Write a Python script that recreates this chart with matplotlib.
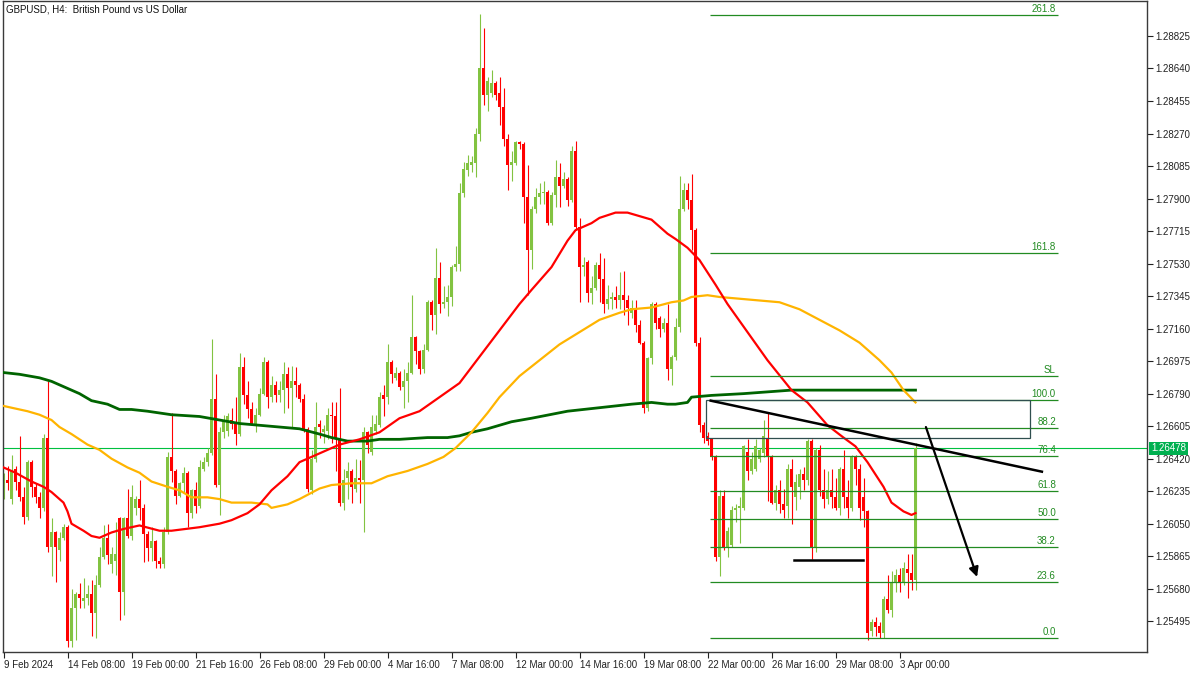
import numpy as np
import matplotlib
matplotlib.use('Agg')
import matplotlib.pyplot as plt
from matplotlib.patches import Rectangle
from matplotlib.transforms import blended_transform_factory

plt.rcParams['font.family'] = ['Liberation Sans', 'DejaVu Sans']

# GBPUSD H4 candles, 9 Feb 2024 16:00 ... 3 Apr 2024 16:00 (index 0..228)
opens = [
    1.2620, 1.2630, 1.2619, 1.2636, 1.2629, 1.2620, 1.2609, 1.2640, 1.2626, 1.2620,
    1.2614, 1.2654, 1.2592, 1.2600, 1.2590, 1.2597, 1.2603, 1.2538, 1.2557, 1.2565,
    1.2561, 1.2563, 1.2565, 1.2554, 1.2570, 1.2586, 1.2597, 1.2582, 1.2584, 1.2608,
    1.2566, 1.2608, 1.2598, 1.2614, 1.2619, 1.2614, 1.2599, 1.2591, 1.2595, 1.2584,
    1.2582, 1.2600, 1.2643, 1.2635, 1.2621, 1.2628, 1.2634, 1.2611, 1.2624, 1.2615,
    1.2636, 1.2640, 1.2645, 1.2676, 1.2627, 1.2657, 1.2658, 1.2664, 1.2662, 1.2656,
    1.2694, 1.2678, 1.2670, 1.2662, 1.2667, 1.2679, 1.2697, 1.2677, 1.2684, 1.2678,
    1.2681, 1.2690, 1.2682, 1.2686, 1.2684, 1.2676, 1.2659, 1.2624, 1.2642, 1.2662,
    1.2657, 1.2658, 1.2667, 1.2666, 1.2653, 1.2617, 1.2631, 1.2635, 1.2625, 1.2631,
    1.2630, 1.2657, 1.2646, 1.2658, 1.2661, 1.2678, 1.2677, 1.2697, 1.2688, 1.2691,
    1.2683, 1.2686, 1.2691, 1.2711, 1.2703, 1.2693, 1.2704, 1.2731, 1.2724, 1.2745,
    1.2730, 1.2731, 1.2734, 1.2751, 1.2753, 1.2793, 1.2806, 1.2809, 1.2810, 1.2827,
    1.2864, 1.2849, 1.2850, 1.2856, 1.2850, 1.2842, 1.2824, 1.2809, 1.2810, 1.2822,
    1.2821, 1.2791, 1.2761, 1.2784, 1.2791, 1.2793, 1.2794, 1.2776, 1.2792, 1.2802,
    1.2797, 1.2801, 1.2789, 1.2817, 1.2774, 1.2751, 1.2754, 1.2736, 1.2739, 1.2752,
    1.2744, 1.2730, 1.2733, 1.2734, 1.2732, 1.2735, 1.2732, 1.2725, 1.2727, 1.2718,
    1.2708, 1.2671, 1.2699, 1.2730, 1.2722, 1.2716, 1.2719, 1.2693, 1.2700, 1.2717,
    1.2784, 1.2795, 1.2789, 1.2772, 1.2708, 1.2661, 1.2655, 1.2653, 1.2643, 1.2586,
    1.2621, 1.2592, 1.2593, 1.2613, 1.2614, 1.2614, 1.2646, 1.2635, 1.2636, 1.2642,
    1.2645, 1.2654, 1.2643, 1.2617, 1.2624, 1.2616, 1.2615, 1.2636, 1.2620, 1.2626,
    1.2633, 1.2630, 1.2652, 1.2592, 1.2647, 1.2624, 1.2619, 1.2624, 1.2620, 1.2614,
    1.2636, 1.2620, 1.2614, 1.2643, 1.2636, 1.2620, 1.2612, 1.2544, 1.2549, 1.2547,
    1.2543, 1.2562, 1.2556, 1.2572, 1.2576, 1.2572, 1.2579, 1.2577, 1.2573,
]
highs = [
    1.2634, 1.2638, 1.2644, 1.2638, 1.2655, 1.2626, 1.2641, 1.2641, 1.2628, 1.2623,
    1.2656, 1.2686, 1.2608, 1.2601, 1.2600, 1.2605, 1.2604, 1.2568, 1.2566, 1.2571,
    1.2574, 1.2570, 1.2573, 1.2576, 1.2592, 1.2604, 1.2605, 1.2592, 1.2606, 1.2609,
    1.2609, 1.2625, 1.2627, 1.2621, 1.2630, 1.2616, 1.2601, 1.2603, 1.2596, 1.2586,
    1.2603, 1.2646, 1.2668, 1.2636, 1.2629, 1.2637, 1.2635, 1.2625, 1.2629, 1.2641,
    1.2643, 1.2648, 1.2710, 1.2690, 1.2660, 1.2667, 1.2668, 1.2671, 1.2677, 1.2702,
    1.2700, 1.2686, 1.2674, 1.2671, 1.2682, 1.2700, 1.2698, 1.2689, 1.2686, 1.2686,
    1.2697, 1.2694, 1.2695, 1.2694, 1.2685, 1.2679, 1.2660, 1.2647, 1.2674, 1.2664,
    1.2661, 1.2671, 1.2674, 1.2674, 1.2682, 1.2636, 1.2640, 1.2636, 1.2642, 1.2641,
    1.2660, 1.2658, 1.2667, 1.2667, 1.2680, 1.2684, 1.2707, 1.2698, 1.2694, 1.2692,
    1.2693, 1.2697, 1.2735, 1.2712, 1.2704, 1.2707, 1.2732, 1.2732, 1.2762, 1.2754,
    1.2740, 1.2741, 1.2752, 1.2763, 1.2799, 1.2811, 1.2815, 1.2814, 1.2830, 1.2895,
    1.2887, 1.2859, 1.2863, 1.2857, 1.2859, 1.2853, 1.2827, 1.2817, 1.2823, 1.2823,
    1.2822, 1.2809, 1.2786, 1.2796, 1.2799, 1.2800, 1.2795, 1.2794, 1.2812, 1.2810,
    1.2805, 1.2802, 1.2820, 1.2823, 1.2779, 1.2757, 1.2755, 1.2746, 1.2754, 1.2759,
    1.2756, 1.2741, 1.2737, 1.2740, 1.2748, 1.2749, 1.2735, 1.2732, 1.2732, 1.2721,
    1.2709, 1.2700, 1.2731, 1.2731, 1.2723, 1.2722, 1.2730, 1.2701, 1.2722, 1.2803,
    1.2799, 1.2799, 1.2804, 1.2773, 1.2711, 1.2663, 1.2657, 1.2654, 1.2644, 1.2624,
    1.2624, 1.2603, 1.2615, 1.2616, 1.2620, 1.2650, 1.2653, 1.2646, 1.2653, 1.2648,
    1.2664, 1.2668, 1.2644, 1.2627, 1.2630, 1.2625, 1.2639, 1.2642, 1.2633, 1.2636,
    1.2637, 1.2653, 1.2653, 1.2648, 1.2650, 1.2636, 1.2635, 1.2636, 1.2631, 1.2637,
    1.2647, 1.2630, 1.2644, 1.2644, 1.2639, 1.2631, 1.2613, 1.2551, 1.2552, 1.2549,
    1.2564, 1.2576, 1.2578, 1.2579, 1.2580, 1.2583, 1.2588, 1.2588, 1.2651,
]
lows = [
    1.2619, 1.2624, 1.2616, 1.2624, 1.2618, 1.2605, 1.2607, 1.2620, 1.2617, 1.2608,
    1.2612, 1.2589, 1.2575, 1.2572, 1.2584, 1.2596, 1.2535, 1.2535, 1.2539, 1.2557,
    1.2557, 1.2559, 1.2541, 1.2540, 1.2569, 1.2585, 1.2582, 1.2577, 1.2576, 1.2550,
    1.2553, 1.2597, 1.2596, 1.2610, 1.2607, 1.2583, 1.2584, 1.2584, 1.2580, 1.2580,
    1.2580, 1.2599, 1.2629, 1.2616, 1.2620, 1.2623, 1.2603, 1.2608, 1.2611, 1.2614,
    1.2635, 1.2638, 1.2644, 1.2626, 1.2610, 1.2654, 1.2655, 1.2659, 1.2650, 1.2655,
    1.2673, 1.2665, 1.2661, 1.2657, 1.2666, 1.2678, 1.2671, 1.2674, 1.2674, 1.2674,
    1.2668, 1.2671, 1.2660, 1.2677, 1.2674, 1.2657, 1.2623, 1.2622, 1.2640, 1.2654,
    1.2651, 1.2653, 1.2651, 1.2635, 1.2615, 1.2613, 1.2619, 1.2617, 1.2623, 1.2617,
    1.2600, 1.2645, 1.2644, 1.2656, 1.2660, 1.2666, 1.2673, 1.2685, 1.2687, 1.2681,
    1.2671, 1.2674, 1.2690, 1.2696, 1.2690, 1.2691, 1.2703, 1.2715, 1.2713, 1.2725,
    1.2728, 1.2723, 1.2729, 1.2749, 1.2749, 1.2791, 1.2803, 1.2805, 1.2802, 1.2823,
    1.2843, 1.2840, 1.2848, 1.2846, 1.2832, 1.2820, 1.2795, 1.2800, 1.2809, 1.2818,
    1.2776, 1.2735, 1.2750, 1.2782, 1.2787, 1.2787, 1.2775, 1.2775, 1.2785, 1.2785,
    1.2796, 1.2786, 1.2788, 1.2772, 1.2731, 1.2746, 1.2731, 1.2730, 1.2738, 1.2731,
    1.2725, 1.2727, 1.2727, 1.2728, 1.2727, 1.2724, 1.2718, 1.2722, 1.2714, 1.2707,
    1.2668, 1.2669, 1.2696, 1.2716, 1.2711, 1.2714, 1.2687, 1.2684, 1.2698, 1.2714,
    1.2783, 1.2784, 1.2761, 1.2706, 1.2657, 1.2651, 1.2650, 1.2641, 1.2584, 1.2575,
    1.2590, 1.2586, 1.2592, 1.2606, 1.2594, 1.2613, 1.2630, 1.2633, 1.2635, 1.2640,
    1.2643, 1.2618, 1.2616, 1.2613, 1.2611, 1.2608, 1.2608, 1.2605, 1.2613, 1.2619,
    1.2624, 1.2627, 1.2585, 1.2589, 1.2621, 1.2614, 1.2616, 1.2614, 1.2613, 1.2610,
    1.2614, 1.2608, 1.2612, 1.2627, 1.2607, 1.2603, 1.2539, 1.2541, 1.2541, 1.2540,
    1.2540, 1.2554, 1.2552, 1.2566, 1.2566, 1.2570, 1.2563, 1.2567, 1.2567,
]
closes = [
    1.2630, 1.2628, 1.2635, 1.2629, 1.2620, 1.2609, 1.2640, 1.2626, 1.2620, 1.2614,
    1.2654, 1.2592, 1.2600, 1.2592, 1.2597, 1.2603, 1.2538, 1.2557, 1.2565, 1.2563,
    1.2563, 1.2565, 1.2554, 1.2570, 1.2586, 1.2597, 1.2587, 1.2588, 1.2588, 1.2566,
    1.2608, 1.2598, 1.2620, 1.2619, 1.2614, 1.2599, 1.2591, 1.2595, 1.2584, 1.2582,
    1.2600, 1.2643, 1.2635, 1.2621, 1.2628, 1.2634, 1.2611, 1.2624, 1.2615, 1.2637,
    1.2640, 1.2645, 1.2676, 1.2627, 1.2657, 1.2664, 1.2666, 1.2662, 1.2656, 1.2694,
    1.2678, 1.2670, 1.2662, 1.2667, 1.2679, 1.2697, 1.2677, 1.2684, 1.2678, 1.2681,
    1.2690, 1.2682, 1.2686, 1.2684, 1.2676, 1.2659, 1.2625, 1.2642, 1.2660, 1.2660,
    1.2659, 1.2667, 1.2666, 1.2653, 1.2617, 1.2630, 1.2635, 1.2626, 1.2631, 1.2630,
    1.2657, 1.2650, 1.2660, 1.2662, 1.2677, 1.2676, 1.2697, 1.2690, 1.2691, 1.2683,
    1.2686, 1.2691, 1.2711, 1.2703, 1.2693, 1.2704, 1.2731, 1.2724, 1.2745, 1.2730,
    1.2731, 1.2734, 1.2751, 1.2753, 1.2793, 1.2807, 1.2810, 1.2811, 1.2827, 1.2864,
    1.2849, 1.2857, 1.2856, 1.2849, 1.2842, 1.2824, 1.2809, 1.2811, 1.2822, 1.2821,
    1.2791, 1.2761, 1.2784, 1.2791, 1.2793, 1.2794, 1.2776, 1.2792, 1.2802, 1.2797,
    1.2801, 1.2789, 1.2817, 1.2774, 1.2751, 1.2752, 1.2736, 1.2739, 1.2752, 1.2744,
    1.2730, 1.2733, 1.2734, 1.2732, 1.2735, 1.2732, 1.2728, 1.2728, 1.2718, 1.2708,
    1.2671, 1.2699, 1.2730, 1.2719, 1.2716, 1.2719, 1.2693, 1.2700, 1.2717, 1.2784,
    1.2795, 1.2789, 1.2772, 1.2708, 1.2661, 1.2654, 1.2652, 1.2643, 1.2586, 1.2621,
    1.2592, 1.2601, 1.2613, 1.2614, 1.2615, 1.2649, 1.2635, 1.2642, 1.2649, 1.2647,
    1.2655, 1.2643, 1.2617, 1.2624, 1.2616, 1.2613, 1.2636, 1.2626, 1.2629, 1.2633,
    1.2630, 1.2652, 1.2592, 1.2647, 1.2624, 1.2619, 1.2624, 1.2620, 1.2614, 1.2636,
    1.2620, 1.2614, 1.2643, 1.2636, 1.2614, 1.2612, 1.2543, 1.2549, 1.2546, 1.2543,
    1.2562, 1.2556, 1.2572, 1.2576, 1.2572, 1.2580, 1.2577, 1.2573, 1.26478,
]

# moving averages (candle index -> price)
ma_fast_idx = [0, 3, 7, 10, 12, 15, 16, 17, 20, 22, 24, 27, 30, 34, 39, 42, 49, 54,
               57, 61, 64, 67, 71, 74, 79, 84, 89, 94, 99, 104, 109, 114, 117, 121,
               124, 129, 132, 137, 141, 143, 147, 149, 153, 156, 159, 162, 166, 168,
               171, 174, 178, 181, 186, 191, 197, 201, 206, 210, 213, 216, 220, 222,
               225, 227, 228]
ma_fast = [1.2637, 1.2634, 1.2629, 1.2626, 1.2623, 1.2617, 1.2612, 1.2605, 1.2601,
           1.2598, 1.2597, 1.2600, 1.2602, 1.2604, 1.2601, 1.2601, 1.2603, 1.2605,
           1.2607, 1.2611, 1.2616, 1.2624, 1.2632, 1.2640, 1.2645, 1.2650, 1.2653,
           1.2657, 1.2665, 1.2669, 1.2677, 1.2685, 1.2694, 1.2706, 1.2715, 1.2730,
           1.2738, 1.2751, 1.2766, 1.2772, 1.2776, 1.2779, 1.2782, 1.2782, 1.2780,
           1.2778, 1.2770, 1.2767, 1.2762, 1.2755, 1.2741, 1.2730, 1.2714, 1.2698,
           1.2681, 1.2674, 1.2661, 1.2654, 1.2649, 1.2640, 1.2626, 1.2617, 1.2612,
           1.2610, 1.2611]

ma_mid_idx = [0, 2, 6, 9, 12, 14, 17, 21, 24, 27, 31, 34, 37, 41, 44, 47, 51, 54, 57,
              62, 66, 67, 71, 74, 79, 82, 87, 92, 96, 101, 106, 110, 113, 117, 121,
              124, 129, 134, 139, 144, 149, 154, 157, 162, 167, 170, 172, 176, 179,
              189, 194, 199, 204, 209, 214, 219, 222, 225, 228]
ma_mid = [1.2672, 1.2671, 1.2669, 1.2667, 1.2664, 1.2660, 1.2656, 1.2650, 1.2647,
          1.2642, 1.2637, 1.2634, 1.2629, 1.2626, 1.2624, 1.2620, 1.2620, 1.2619,
          1.2617, 1.2617, 1.2616, 1.2614, 1.2616, 1.2619, 1.2625, 1.2627, 1.2628,
          1.2628, 1.2632, 1.2635, 1.2639, 1.2643, 1.2648, 1.2657, 1.2668, 1.2677,
          1.2689, 1.2698, 1.2707, 1.2714, 1.2721, 1.2725, 1.2727, 1.2728, 1.2731,
          1.2732, 1.2734, 1.2735, 1.2734, 1.2732, 1.2731, 1.2727, 1.2721, 1.2715,
          1.2708, 1.2698, 1.2691, 1.2681, 1.2674]

ma_slow_idx = [0, 4, 9, 12, 16, 19, 22, 26, 29, 32, 36, 39, 42, 49, 54, 59, 64, 69,
               74, 79, 82, 86, 91, 94, 99, 106, 111, 114, 117, 121, 127, 132, 141,
               149, 157, 162, 166, 168, 171, 172, 177, 185, 191, 197, 205, 213, 222,
               228]
ma_slow = [1.2691, 1.2690, 1.2688, 1.2686, 1.2682, 1.2679, 1.2675, 1.2673, 1.2670,
           1.2670, 1.2669, 1.2668, 1.2667, 1.2666, 1.2664, 1.2662, 1.2661, 1.2660,
           1.2659, 1.2656, 1.2654, 1.2652, 1.2652, 1.2653, 1.2653, 1.2654, 1.2654,
           1.2655, 1.2657, 1.2659, 1.2663, 1.2665, 1.2669, 1.2671, 1.2673, 1.2674,
           1.2673, 1.2673, 1.2674, 1.2677, 1.2678, 1.2679, 1.2680, 1.2681, 1.2681,
           1.2681, 1.2681, 1.2681]

# x axis labels (candle index -> label)
date_ticks = [0, 16, 32, 48, 64, 80, 96, 112, 128, 144, 160, 176, 192, 208, 224]
date_labels = ['9 Feb 2024', '14 Feb 08:00', '19 Feb 00:00', '21 Feb 16:00',
               '26 Feb 08:00', '29 Feb 00:00', '4 Mar 16:00', '7 Mar 08:00',
               '12 Mar 00:00', '14 Mar 16:00', '19 Mar 08:00', '22 Mar 00:00',
               '26 Mar 16:00', '29 Mar 08:00', '3 Apr 00:00']

# fibonacci retracement / extension
fib_low = 1.25400
fib_high = 1.26754
fib_ratios = [0.0, 23.6, 38.2, 50.0, 61.8, 76.4, 88.2, 100.0, 161.8, 261.8]
stop_loss = 1.26891
last_price = 1.26478

BULL = '#82c341'
BEAR = '#ff0000'
FIB = '#228b22'


def main():
    fig = plt.figure(figsize=(12, 6.75), dpi=100)
    ax = fig.add_axes([3 / 1200, 23 / 675, 1144 / 1200, 651 / 675])
    plot_candles(ax)
    plot_mas(ax)
    plot_objects(ax)
    format_axes(ax)
    fig.text(6 / 1200, 1 - 9.5 / 675, 'GBPUSD, H4:  British Pound vs US Dollar',
             fontsize=7, va='center', ha='left', color='#111111')
    fig.savefig('out.png', dpi=100)
    plt.close(fig)


def plot_candles(ax):
    o = np.array(opens)
    h = np.array(highs)
    l = np.array(lows)
    c = np.array(closes)
    idx = np.arange(len(c))
    hi = np.maximum(h, np.maximum(o, c))
    lo = np.minimum(l, np.minimum(o, c))
    up = c >= o
    body_lo = np.minimum(o, c)
    body_h = np.maximum(np.abs(c - o), 0.00006)
    for mask, col in ((up, BULL), (~up, BEAR)):
        ax.vlines(idx[mask], lo[mask], hi[mask], color=col, lw=0.8, zorder=2)
        ax.bar(idx[mask], body_h[mask], bottom=body_lo[mask], width=0.75,
               color=col, lw=0, zorder=2.1)


def plot_mas(ax):
    ax.plot(ma_slow_idx, ma_slow, color='#006400', lw=2.0, zorder=3)
    ax.plot(ma_mid_idx, ma_mid, color='#ffb400', lw=1.6, zorder=3)
    ax.plot(ma_fast_idx, ma_fast, color='#ff0000', lw=1.6, zorder=3)


def plot_objects(ax):
    x0, x1 = 176.6, 263.6
    span = fib_high - fib_low
    for r in fib_ratios:
        level = fib_low + span * r / 100
        ax.hlines(level, x0, x1, color=FIB, lw=0.9, zorder=4)
        ax.text(x1 - 0.5, level + 0.00005, f'{r:.1f}', color=FIB, fontsize=7,
                ha='right', va='bottom', zorder=4)
    ax.hlines(stop_loss, x0, x1, color=FIB, lw=0.9, zorder=4)
    ax.text(x1 - 0.5, stop_loss + 0.00005, 'SL', color=FIB, fontsize=7,
            ha='right', va='bottom', zorder=4)

    ax.add_patch(Rectangle((175.6, 1.26536), 81.0, 1.26754 - 1.26536, fill=False,
                           ec='#2f4f4f', lw=0.9, zorder=4))

    # trend line, neckline and projected move
    ax.plot([176.8, 259.6], [1.26750, 1.26346], color='black', lw=1.8, zorder=5)
    ax.plot([197.6, 214.9], [1.25844, 1.25844], color='black', lw=1.8, zorder=5)
    ax.annotate('', xy=(243.4, 1.25747), xytext=(230.6, 1.26600),
                arrowprops=dict(arrowstyle='-|>', color='black', lw=1.6,
                                mutation_scale=14, shrinkA=0, shrinkB=0),
                zorder=5)

    # bid line and price tag
    ax.axhline(last_price, color='#00c040', lw=0.8, zorder=1.5)
    trans = blended_transform_factory(ax.transAxes, ax.transData)
    ax.text(1.0035, last_price, f'{last_price:.5f}', transform=trans, color='white',
            fontsize=7, ha='left', va='center', zorder=10,
            bbox=dict(boxstyle='square,pad=0.18', fc='#00b050', ec='none'))


def format_axes(ax):
    ax.set_xlim(-0.125, 285.875)
    ax.set_ylim(1.25320, 1.29024)
    ax.yaxis.tick_right()
    yt = [1.25495 + 0.00185 * i for i in range(19)]
    ax.set_yticks(yt)
    ax.set_yticklabels([f'{v:.5f}' for v in yt])
    ax.set_xticks(date_ticks)
    ax.set_xticklabels(date_labels, ha='left')
    ax.tick_params(axis='both', direction='out', length=4, width=0.8,
                   labelsize=7, colors='#222222')
    ax.tick_params(axis='y', pad=2)
    ax.tick_params(axis='x', pad=2)
    for s in ax.spines.values():
        s.set_color('#3a3a3a')
        s.set_linewidth(1.0)
    ax.set_facecolor('white')


if __name__ == '__main__':
    main()
